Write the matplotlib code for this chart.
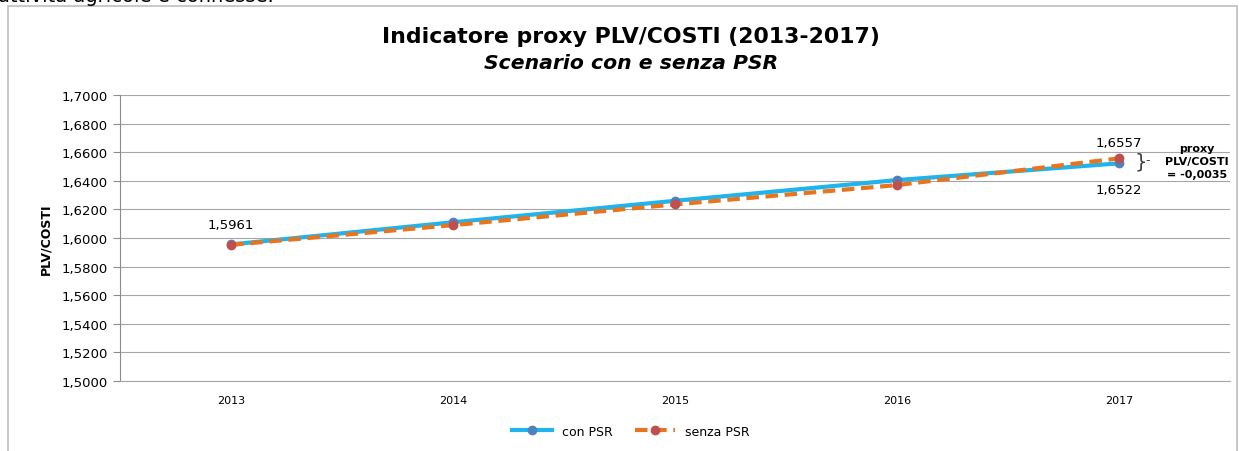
import numpy as np
import matplotlib.pyplot as plt
from matplotlib.patches import Rectangle

# Dati
anni = ['2013', '2014', '2015', '2016', '2017']
con_psr = [1.5955, 1.6110, 1.6260, 1.6405, 1.6522]
senza_psr = [1.5952, 1.6090, 1.6235, 1.6370, 1.6557]
y_ticks = np.arange(1.50, 1.7001, 0.02)

def virgola(v, dec=4):
    return f'{v:.{dec}f}'.replace('.', ',')

fig = plt.figure(figsize=(12.39, 4.52), dpi=100)
ax = fig.add_axes([0.0969, 0.1549, 0.8958, 0.6327])

x = np.arange(len(anni))
ax.plot(x, con_psr, color='#1FB4EC', linewidth=3, marker='o', markersize=6,
        markerfacecolor='#4F81BD', markeredgecolor='#4F81BD', label='con PSR', zorder=3)
ax.plot(x, senza_psr, color='#E8741E', linewidth=3, linestyle=(0, (3, 1.6)), marker='o',
        markersize=6, markerfacecolor='#C0504D', markeredgecolor='#C0504D',
        label='senza PSR', zorder=4)

ax.set_xlim(-0.5, 4.5)
ax.set_ylim(1.5, 1.7)
ax.set_yticks(y_ticks)
ax.set_yticklabels([virgola(v) for v in y_ticks], fontsize=9.5)
ax.set_xticks(x)
ax.set_xticklabels(anni, fontsize=8)
ax.tick_params(axis='x', length=0, pad=10)
ax.tick_params(axis='y', length=5, color='#8C8C8C', pad=4)
ax.grid(axis='y', color='#A6A6A6', linewidth=0.8)
ax.set_axisbelow(True)
for s in ['top', 'right']:
    ax.spines[s].set_visible(False)
ax.spines['bottom'].set_color('#A6A6A6')
ax.spines['bottom'].set_linewidth(0.8)
ax.spines['left'].set_color('#8C8C8C')
ax.set_ylabel('PLV/COSTI', fontsize=9, fontweight='bold', labelpad=6)

# Etichette dei valori
ax.annotate('1,5961', (0, con_psr[0]), xytext=(0, 10), textcoords='offset points',
            ha='center', va='bottom', fontsize=9.5)
ax.annotate(virgola(senza_psr[4]), (4, senza_psr[4]), xytext=(0, 7), textcoords='offset points',
            ha='center', va='bottom', fontsize=9.5)
ax.annotate(virgola(con_psr[4]), (4, con_psr[4]), xytext=(0, -14), textcoords='offset points',
            ha='center', va='top', fontsize=9.5)
medio = (con_psr[4] + senza_psr[4]) / 2
ax.annotate('}', (4, medio), xytext=(11, 0), textcoords='offset points',
            ha='left', va='center', fontsize=14, color='#404040', annotation_clip=False)
ax.annotate('-', (4, medio), xytext=(19, 1), textcoords='offset points',
            ha='left', va='center', fontsize=9, color='#404040', annotation_clip=False)
ax.annotate('proxy\nPLV/COSTI\n= ' + virgola(con_psr[4] - senza_psr[4]),
            (4, medio), xytext=(56, 0), textcoords='offset points',
            ha='center', va='center', fontsize=8, fontweight='bold', linespacing=1.4,
            annotation_clip=False)

fig.text(0.509, 0.918, 'Indicatore proxy PLV/COSTI (2013-2017)', ha='center', va='center',
         fontsize=15.8, fontweight='bold')
fig.text(0.509, 0.860, 'Scenario con e senza PSR', ha='center', va='center',
         fontsize=14.7, fontweight='bold', fontstyle='italic')

ax.legend(loc='center', bbox_to_anchor=(0.46, -0.175), ncol=2, frameon=False, fontsize=9,
          handlelength=3.2, columnspacing=1.8)

# Bordo del grafico e testo tagliato in alto
fig.patches.append(Rectangle((8 / 1239, -0.01), 1229 / 1239, 1 - 7 / 452 + 0.01,
                             transform=fig.transFigure, fill=False, edgecolor='#BFBFBF',
                             linewidth=1.2))
fig.text(-0.002, 0.996, 'attività agricole e connesse.', ha='left', va='baseline', fontsize=14)

fig.savefig('out.png', dpi=100)
